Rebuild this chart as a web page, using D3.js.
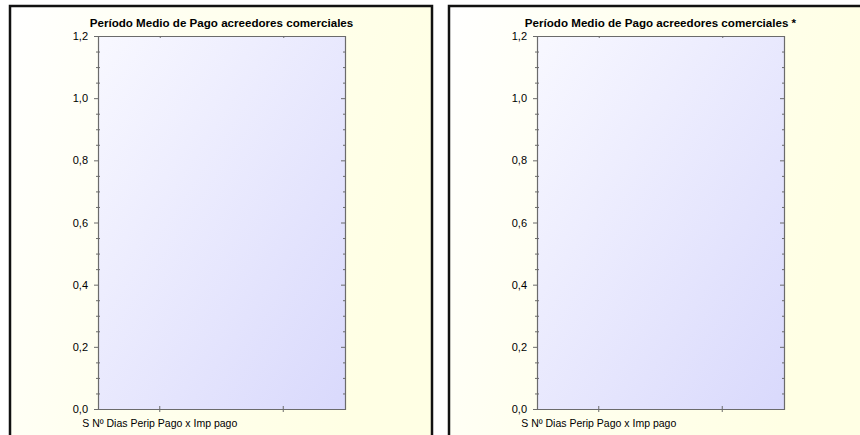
<!DOCTYPE html>
<html>
<head>
<meta charset="utf-8">
<script src="https://cdn.jsdelivr.net/npm/d3@7"></script>
<style>
  html, body { margin: 0; padding: 0; background: #ffffff; }
  svg { display: block; font-family: Arial, "Liberation Sans", sans-serif; }
</style>
</head>
<body>
<svg id="chart" width="860" height="435"></svg>
<script>
// ---- data ----
const titles = ["Período Medio de Pago acreedores comerciales", "Período Medio de Pago acreedores comerciales *"];
const categories = ["S Nº Dias Perip Pago x Imp pago", ""];
const seriesLeft = [];   // no values drawn in the reference
const seriesRight = [];
const yMajorTicks = [0, 0.2, 0.4, 0.6, 0.8, 1.0, 1.2];
const yMinorStep = 0.05;
const yDomain = [0, 1.2];

const svg = d3.select("#chart");
const defs = svg.append("defs");

const pg = defs.append("linearGradient").attr("id", "panelGrad")
  .attr("x1", "0%").attr("y1", "0%").attr("x2", "100%").attr("y2", "30%");
pg.append("stop").attr("offset", "0%").attr("stop-color", "#ffffff");
pg.append("stop").attr("offset", "40%").attr("stop-color", "#fffff0");
pg.append("stop").attr("offset", "100%").attr("stop-color", "#ffffe4");

const plotGrad = defs.append("linearGradient").attr("id", "plotGrad")
  .attr("x1", "0%").attr("y1", "0%").attr("x2", "100%").attr("y2", "100%");
plotGrad.append("stop").attr("offset", "0%").attr("stop-color", "#f8f8ff");
plotGrad.append("stop").attr("offset", "100%").attr("stop-color", "#d9d9fc");

const panels = [
  { x0: 10, x1: 432, plotL: 98, plotR: 345, title: titles[0], data: seriesLeft },
  { x0: 449, x1: 862, plotL: 537, plotR: 784, title: titles[1], data: seriesRight }
];
const plotTop = 36, plotBottom = 409;

const minorTicks = d3.range(0, 1.2 + 1e-9, yMinorStep)
  .filter(v => !yMajorTicks.some(m => Math.abs(m - v) < 1e-6));
const fmt = d => d3.format(".1f")(d).replace(".", ",");

panels.forEach(p => {
  const g = svg.append("g");
  // panel background + frame
  g.append("rect").attr("x", p.x0).attr("y", 6).attr("width", p.x1 - p.x0).attr("height", 440)
    .attr("fill", "url(#panelGrad)").attr("stroke", "#111").attr("stroke-width", 2.5);

  const x = d3.scaleBand().domain(categories).range([p.plotL, p.plotR]);
  const y = d3.scaleLinear().domain(yDomain).range([plotBottom, plotTop]);

  // plot area
  g.append("rect").attr("x", p.plotL).attr("y", plotTop)
    .attr("width", p.plotR - p.plotL).attr("height", plotBottom - plotTop)
    .attr("fill", "url(#plotGrad)");

  // title
  g.append("text").attr("x", (p.plotL + p.plotR) / 2).attr("y", 26.5)
    .attr("text-anchor", "middle").attr("font-size", 11.6).attr("font-weight", "bold")
    .attr("fill", "#000").text(p.title);

  const axisColor = "#6b6b6b";
  const style = sel => {
    sel.select(".domain").attr("stroke", axisColor).attr("stroke-width", 1.2);
    sel.selectAll(".tick line").attr("stroke", axisColor);
    sel.selectAll(".tick text").attr("fill", "#000").attr("font-size", 11)
      .attr("font-family", "Arial, 'Liberation Sans', sans-serif");
  };

  // left axis, major
  g.append("g").attr("transform", `translate(${p.plotL},0)`)
    .call(d3.axisLeft(y).tickValues(yMajorTicks).tickSize(4).tickPadding(6).tickFormat(fmt))
    .call(style);
  // left axis, minor (crossing)
  g.append("g").attr("transform", `translate(${p.plotL},0)`)
    .call(d3.axisLeft(y).tickValues(minorTicks).tickSize(2).tickFormat(""))
    .call(style).call(s => s.select(".domain").remove());
  g.append("g").attr("transform", `translate(${p.plotL},0)`)
    .call(d3.axisRight(y).tickValues(minorTicks).tickSize(2).tickFormat(""))
    .call(style).call(s => s.select(".domain").remove());

  // right axis (inward ticks)
  g.append("g").attr("transform", `translate(${p.plotR},0)`)
    .call(d3.axisLeft(y).tickValues(yMajorTicks).tickSize(4).tickFormat(""))
    .call(style);
  g.append("g").attr("transform", `translate(${p.plotR},0)`)
    .call(d3.axisLeft(y).tickValues(minorTicks).tickSize(2).tickFormat(""))
    .call(style).call(s => s.select(".domain").remove());

  // top axis (inward ticks at category centers)
  g.append("g").attr("transform", `translate(0,${plotTop})`)
    .call(d3.axisBottom(x).tickSize(2).tickSizeOuter(0).tickFormat(""))
    .call(style)
    .call(s => s.selectAll(".tick line").attr("transform", "translate(0.5,0)"));

  // bottom axis (crossing ticks)
  const bx = g.append("g").attr("transform", `translate(0,${plotBottom})`)
    .call(d3.axisBottom(x).tickSize(3).tickSizeOuter(0).tickPadding(8))
    .call(style);
  bx.selectAll(".tick line").attr("y1", -3);
  bx.selectAll(".tick text").attr("font-size", 10.5).attr("dy", "0.71em");
});
</script>
</body>
</html>
